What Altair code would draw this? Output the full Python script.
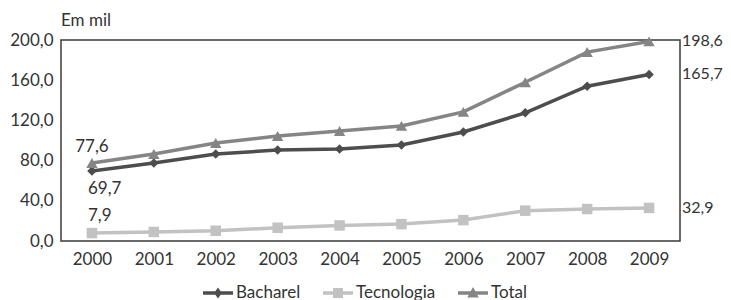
import altair as alt
import pandas as pd

years = ["2000", "2001", "2002", "2003", "2004", "2005", "2006", "2007", "2008", "2009"]
series_names = ["Bacharel", "Tecnologia", "Total"]
bacharel = [69.7, 77.6, 86.6, 90.5, 91.5, 95.5, 108.5, 127.5, 154.0, 165.7]
tecnologia = [7.9, 9.0, 10.2, 13.2, 15.5, 16.8, 20.8, 30.2, 31.8, 32.9]
total = [77.6, 86.6, 97.5, 104.5, 109.5, 114.5, 128.5, 158.0, 188.0, 198.6]
y_ticks = [0, 40, 80, 120, 160, 200]

colors = ["#4d4d4d", "#c2c2c2", "#858585"]
legend_paths = [
    "M-1,-0.11L1,-0.11L1,0.11L-1,0.11Z M0,-0.36L0.26,0L0,0.36L-0.26,0Z",
    "M-1,-0.11L1,-0.11L1,0.11L-1,0.11Z M-0.33,-0.33L0.33,-0.33L0.33,0.33L-0.33,0.33Z",
    "M-1,-0.11L1,-0.11L1,0.11L-1,0.11Z M0,-0.4L0.38,0.3L-0.38,0.3Z",
]

rows = []
for name, vals in zip(series_names, [bacharel, tecnologia, total]):
    for yr, v in zip(years, vals):
        rows.append({"ano": yr, "serie": name, "valor": v})
df = pd.DataFrame(rows)

FONT = "Lato"
TXT = "#333333"
FS = 17

x_enc = alt.X("ano:O", scale=alt.Scale(type="point", padding=0.5),
              axis=alt.Axis(title=None, labelAngle=0))
y_enc = alt.Y("valor:Q", scale=alt.Scale(domain=[0, 200], nice=False),
              axis=alt.Axis(title=None, values=y_ticks,
                            labelExpr="replace(format(datum.value, '.1f'), '.', ',')"))

base = alt.Chart(df).encode(x=x_enc, y=y_enc).transform_calculate(
    rotulo="replace(format(datum.valor, '.1f'), '.', ',')"
)

shapes = {"Bacharel": ("diamond", 90), "Tecnologia": ("square", 110), "Total": ("triangle-up", 130)}
series_layers = []
for name, col in zip(series_names, colors):
    shp, sz = shapes[name]
    sub = base.transform_filter(alt.datum.serie == name)
    series_layers.append(sub.mark_line(strokeWidth=3.5, color=col))
    series_layers.append(sub.mark_point(shape=shp, size=sz, filled=True, opacity=1, color=col))

end_labels = base.transform_filter(alt.datum.ano == years[-1]).mark_text(
    align="left", baseline="middle", dx=33, font=FONT, fontSize=16, color=TXT
).encode(text="rotulo:N")

lbl_total = base.transform_filter((alt.datum.ano == years[0]) & (alt.datum.serie == "Total")).mark_text(
    align="center", baseline="middle", dy=-16, font=FONT, fontSize=FS, color=TXT
).encode(text="rotulo:N")
lbl_bach = base.transform_filter((alt.datum.ano == years[0]) & (alt.datum.serie == "Bacharel")).mark_text(
    align="left", baseline="middle", dx=-4, dy=18, font=FONT, fontSize=FS, color=TXT
).encode(text="rotulo:N")
lbl_tec = base.transform_filter((alt.datum.ano == years[0]) & (alt.datum.serie == "Tecnologia")).mark_text(
    align="left", baseline="middle", dx=-4, dy=-17, font=FONT, fontSize=FS, color=TXT
).encode(text="rotulo:N")

legend_layer = base.transform_filter("false").mark_point(filled=True, opacity=1).encode(
    color=alt.Color("serie:N", scale=alt.Scale(domain=series_names, range=colors), title=None),
    shape=alt.Shape("serie:N", scale=alt.Scale(domain=series_names, range=legend_paths), title=None,
                    legend=alt.Legend(orient="none", legendX=142, legendY=238, direction="horizontal",
                                      symbolSize=900, symbolStrokeWidth=0, columnPadding=22,
                                      labelOffset=3, labelFont=FONT, labelFontSize=FS,
                                      labelColor=TXT, title=None)),
)

chart = alt.layer(*series_layers, end_labels, lbl_total, lbl_bach, lbl_tec, legend_layer).properties(
    width=619, height=201,
    title=alt.TitleParams("Em mil", anchor="start", frame="group", font=FONT, fontSize=17,
                          fontWeight="normal", color=TXT, offset=1),
    autosize=alt.AutoSizeParams(type="none"),
    padding={"left": 53, "top": 32, "right": 43, "bottom": 59},
).configure_view(
    stroke="#3a3a3a", strokeWidth=1.5
).configure_axis(
    domain=False, ticks=False, grid=False, labelFont=FONT, labelFontSize=FS,
    labelColor=TXT, labelPadding=8
).configure_axisX(labelPadding=10)

chart.save("out.html", embed_options={"renderer": "svg", "actions": False})
